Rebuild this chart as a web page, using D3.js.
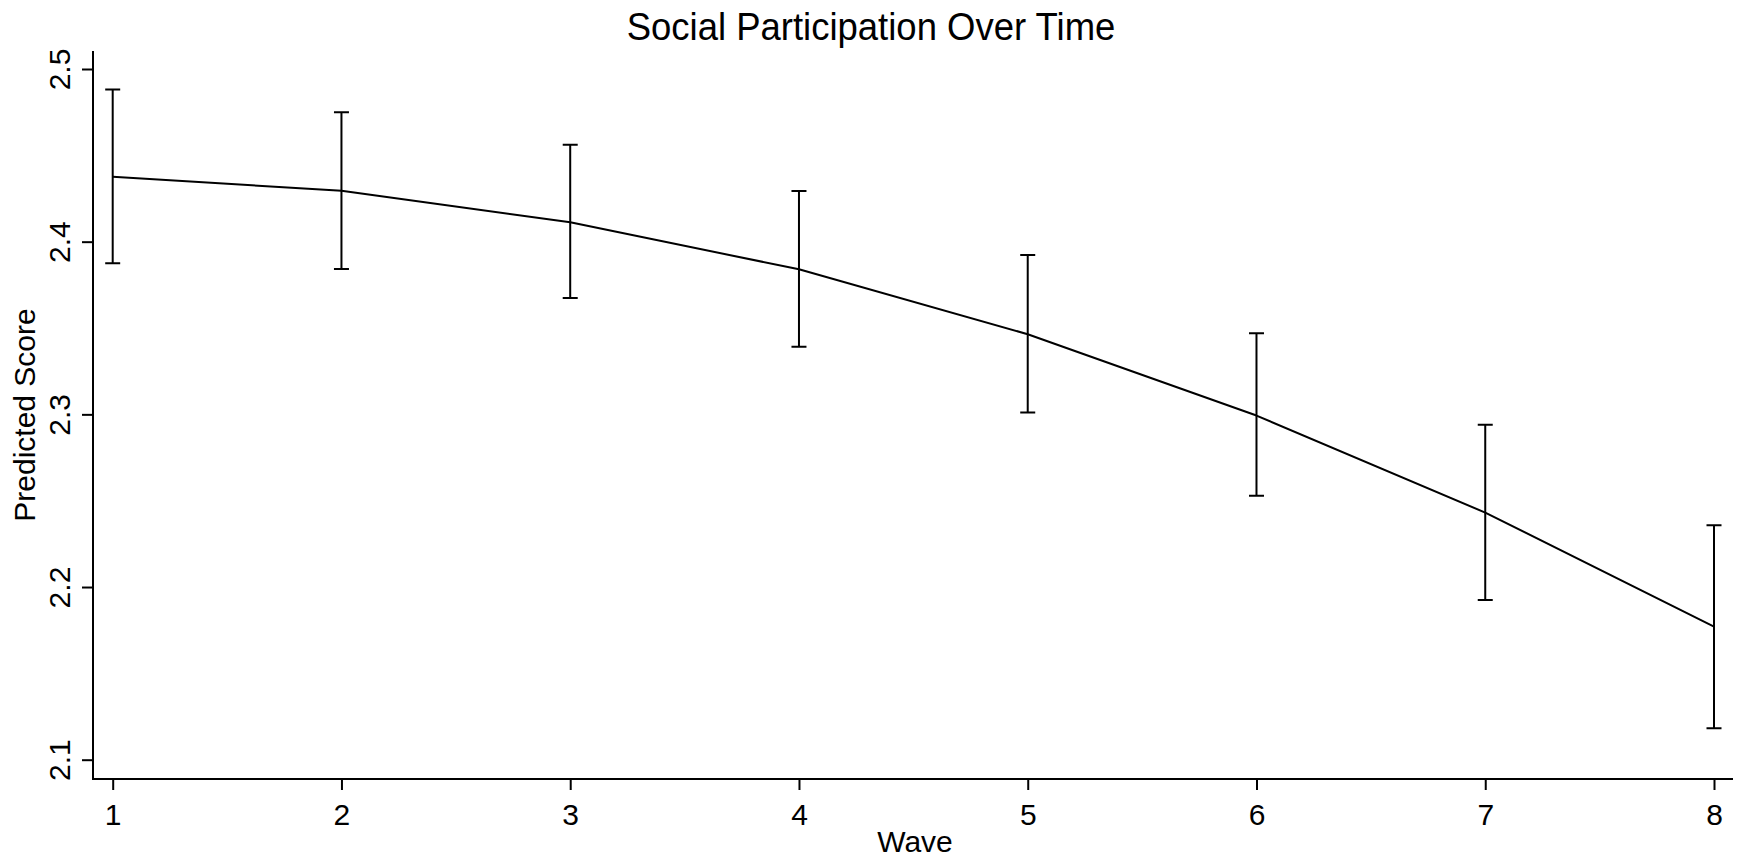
<!DOCTYPE html>
<html>
<head>
<meta charset="utf-8">
<script src="https://cdn.jsdelivr.net/npm/d3@7"></script>
<style>
  html, body { margin: 0; padding: 0; background: #fff; }
  svg { display: block; }
  text { font-family: "Liberation Sans", Arial, sans-serif; fill: #000; }
</style>
</head>
<body>
<div id="chart"></div>
<script>
(function () {
  'use strict';

  // Predicted score by wave, with 95% CI
  const waves = [1, 2, 3, 4, 5, 6, 7, 8];
  const predicted = [2.4376, 2.4295, 2.4112, 2.3840, 2.3464, 2.2993, 2.2431, 2.1771];
  const ciLower = [2.3875, 2.3842, 2.3674, 2.3392, 2.3010, 2.2528, 2.1925, 2.1182];
  const ciUpper = [2.4882, 2.4749, 2.4562, 2.4294, 2.3923, 2.3470, 2.2940, 2.2358];
  const yTicks = [2.1, 2.2, 2.3, 2.4, 2.5];
  const xTicks = [1, 2, 3, 4, 5, 6, 7, 8];

  const TITLE = 'Social Participation Over Time';
  const X_LABEL = 'Wave';
  const Y_LABEL = 'Predicted Score';

  const W = 1737, H = 861;
  // plot frame (axis lines) in pixels
  const frame = { left: 93, right: 1733, top: 51, bottom: 779 };

  const x = d3.scaleLinear().domain([1, 8]).range([112.7, 1714]);
  const y = d3.scaleLinear().domain([2.1, 2.5]).range([759.7, 69]);

  const rows = waves.map((w, i) => ({ w, p: predicted[i], lo: ciLower[i], hi: ciUpper[i] }));

  const svg = d3.select('#chart').append('svg').attr('width', W).attr('height', H);

  // title — Stata's title font is a touch taller than Arial, stretch a little
  svg.append('text')
    .attr('transform', 'translate(871,40) scale(1,1.08)')
    .attr('text-anchor', 'middle')
    .style('font-size', '36.5px')
    .text(TITLE);

  // --- axes ---
  const yAxis = svg.append('g')
    .attr('transform', `translate(${frame.left},0)`)
    .call(d3.axisLeft(y).tickValues(yTicks).tickSize(11).tickSizeOuter(0).tickFormat(d3.format('.1f')));
  yAxis.select('.domain').remove();
  yAxis.selectAll('.tick line').attr('stroke', '#000').attr('stroke-width', 2);
  yAxis.selectAll('.tick text')
    .attr('x', null).attr('dy', null)
    .attr('transform', 'translate(-23,0) rotate(-90)')
    .attr('text-anchor', 'middle')
    .style('font-size', '30px');

  const xAxis = svg.append('g')
    .attr('transform', `translate(0,${frame.bottom})`)
    .call(d3.axisBottom(x).tickValues(xTicks).tickSize(11).tickSizeOuter(0).tickFormat(d3.format('d')));
  xAxis.select('.domain').remove();
  xAxis.selectAll('.tick line').attr('stroke', '#000').attr('stroke-width', 2);
  xAxis.selectAll('.tick text')
    .attr('y', 46).attr('dy', null)
    .style('font-size', '30px');

  // axis lines
  svg.append('path')
    .attr('d', `M${frame.left},${frame.top}V${frame.bottom}H${frame.right}`)
    .attr('fill', 'none').attr('stroke', '#000').attr('stroke-width', 2);

  // axis titles
  svg.append('text')
    .attr('transform', `translate(35,${(frame.top + frame.bottom) / 2}) rotate(-90)`)
    .attr('text-anchor', 'middle')
    .style('font-size', '30px')
    .text(Y_LABEL);

  svg.append('text')
    .attr('x', (frame.left + W) / 2).attr('y', 852)
    .attr('text-anchor', 'middle')
    .style('font-size', '30px')
    .text(X_LABEL);

  // --- error bars ---
  const cap = 7.5;
  const bars = svg.append('g').attr('stroke', '#000').attr('stroke-width', 2).attr('fill', 'none');
  bars.selectAll('.ci').data(rows).enter().append('path')
    .attr('class', 'ci')
    .attr('d', d => {
      const cx = x(d.w), y0 = y(d.lo), y1 = y(d.hi);
      return `M${cx - cap},${y1}H${cx + cap}M${cx},${y1}V${y0}M${cx - cap},${y0}H${cx + cap}`;
    });

  // --- prediction line ---
  const line = d3.line().x(d => x(d.w)).y(d => y(d.p));
  svg.append('path')
    .datum(rows)
    .attr('d', line)
    .attr('fill', 'none')
    .attr('stroke', '#000')
    .attr('stroke-width', 2)
    .attr('stroke-linejoin', 'round');
})();
</script>
</body>
</html>
